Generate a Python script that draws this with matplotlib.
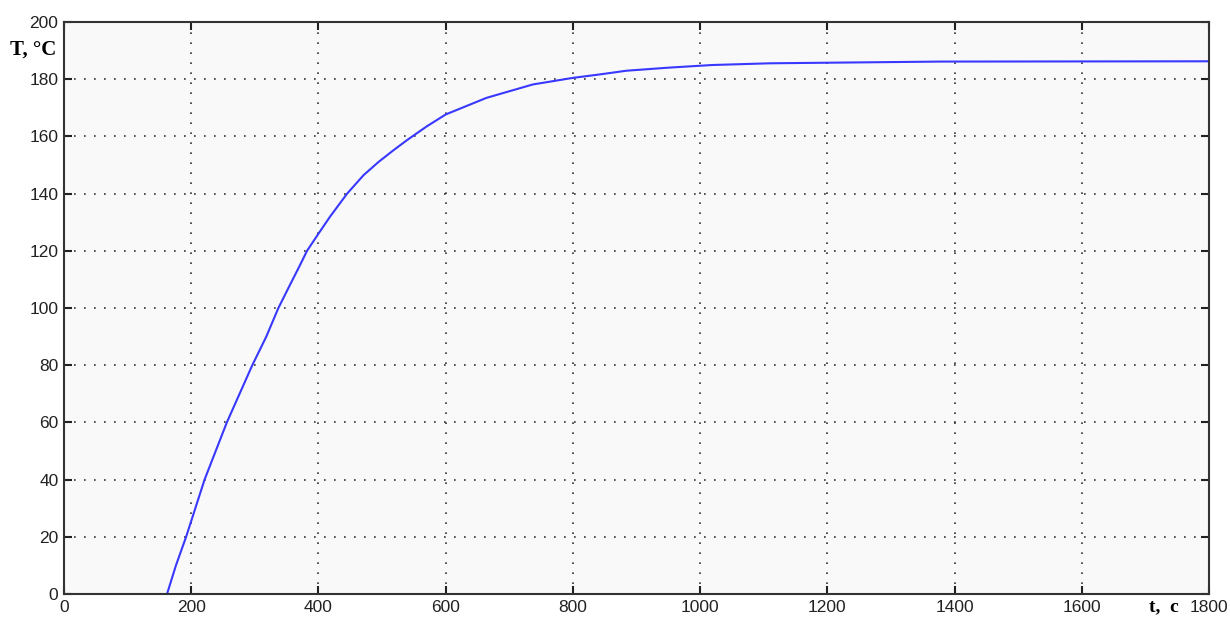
import numpy as np
import matplotlib
matplotlib.use("Agg")
import matplotlib.pyplot as plt

# heating curve
time_s = [0, 162, 176, 192, 221, 256, 296, 318, 337, 355, 371, 382, 400, 418,
          445, 471, 495, 518, 539, 570, 600, 664, 737, 800, 842, 884, 952,
          1019, 1110, 1378, 1800]
temp_c = [0, 0, 10, 20, 40, 60, 80, 90, 100, 108, 115, 120, 126, 131.9,
          140, 146.5, 151.2, 155.2, 158.7, 163.5, 167.7, 173.5, 178.2, 180.5,
          181.7, 183, 184.1, 185, 185.6, 186.2, 186.3]

x_ticks = list(range(0, 1801, 200))
y_ticks = list(range(0, 201, 20))

plt.rcParams['font.family'] = ['Liberation Sans', 'DejaVu Sans']

fig = plt.figure(figsize=(12.3, 6.23), dpi=100)
ax = fig.add_axes([0.052, 0.0465, 0.931, 0.918])
ax.set_facecolor("#f9f9f9")

ax.plot(time_s, temp_c, color="#3838ff", linewidth=1.5)

ax.set_xlim(0, 1800)
ax.set_ylim(0, 200)
ax.set_xticks(x_ticks)
ax.set_yticks(y_ticks)
ax.set_xticklabels([str(v) for v in x_ticks[:-1]] + [""])
ax.grid(True, linestyle=(0, (1, 5)), color="#333333", linewidth=1.2)
ax.tick_params(direction="in", top=True, right=True, length=6, width=1.5,
               labelsize=12.5, colors="#222222", pad=4)
for s in ax.spines.values():
    s.set_linewidth(1.5)
    s.set_color("#333333")

# last x label sits right of the axis corner
ax.text(1.0, -0.01, "1800", transform=ax.transAxes, ha="center", va="top",
        fontsize=12.5, color="#222222")

fig.text(0.008, 0.905, "T, °C", family=["Liberation Serif", "DejaVu Serif"],
         fontweight="bold", fontsize=15, ha="left", va="bottom")
fig.text(0.958, 0.012, "t,  c", family=["Liberation Serif", "DejaVu Serif"],
         fontweight="bold", fontsize=14, ha="right", va="bottom")

plt.savefig("out.png", dpi=100)
